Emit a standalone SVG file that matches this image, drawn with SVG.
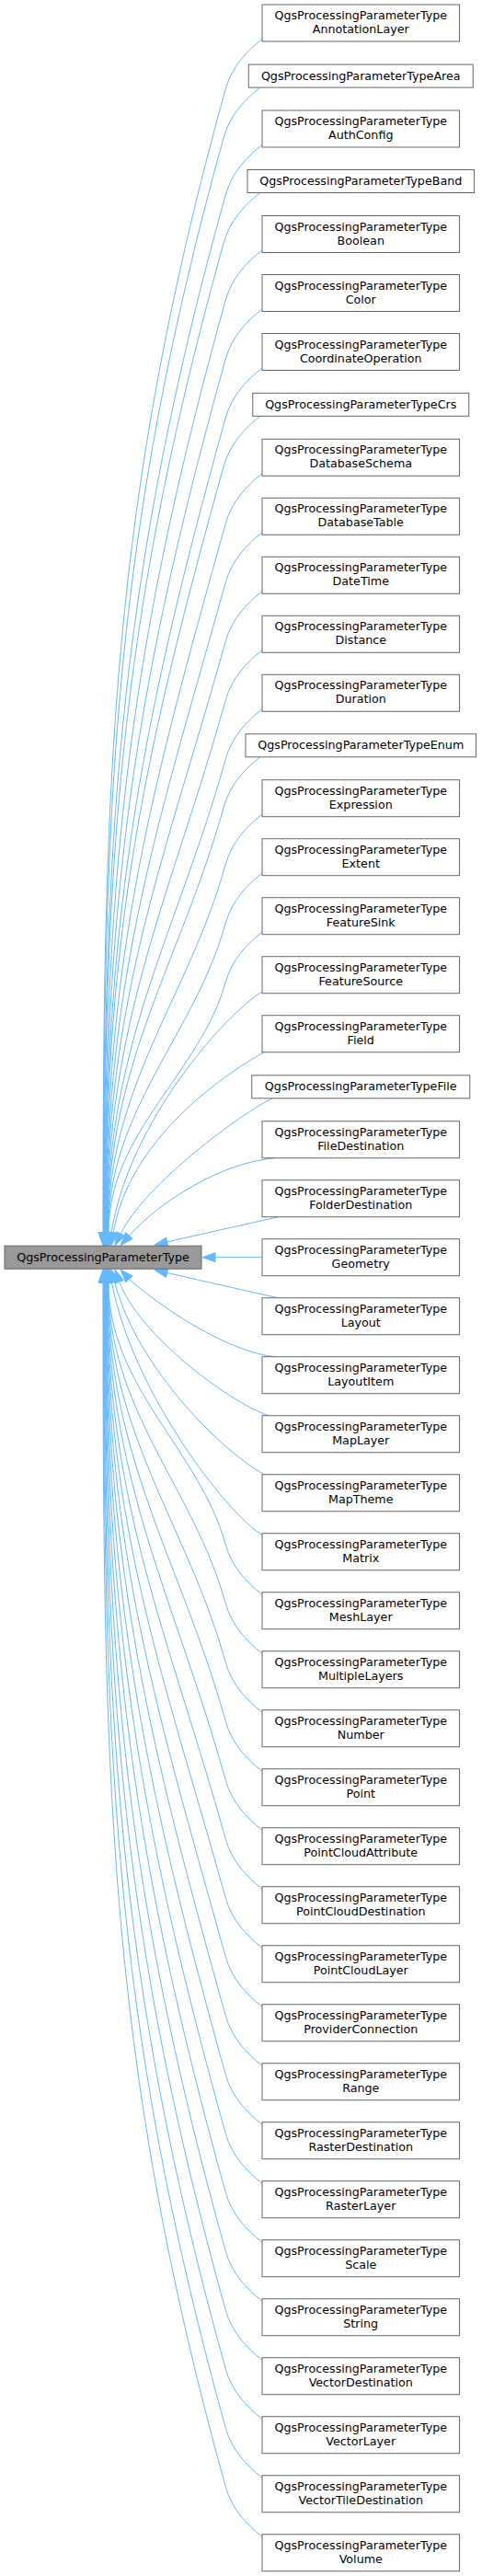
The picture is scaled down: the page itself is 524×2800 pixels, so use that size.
<svg xmlns="http://www.w3.org/2000/svg" width="524" height="2800" viewBox="0 0 524 2800">
<style>
.n rect{fill:#ffffff;stroke:#666666;stroke-width:1}
.m rect{fill:#999999;stroke:#666666;stroke-width:1}
text{font-family:"DejaVu Sans","Liberation Sans",sans-serif;font-size:12.7px;text-anchor:middle;fill:#000000}
#edges path{fill:none;stroke:#63b8ff;stroke-width:1}
#edges polygon{fill:#63b8ff;stroke:#63b8ff;stroke-width:1}
</style>
<rect width="524" height="2800" fill="#ffffff"/>
<g id="edges">
<!-- upper far -->
<path d="M112,1339.5 C112,842.7 120.8,544.6 245,97.5 C252,72.5 268,55.5 285,42.5"/>
<polygon points="107,1339.5 112,1353.7 117,1339.5"/>
<path d="M112.4,1339.5 C112.4,863.7 124.1,578.3 243,150.1 C250,125.1 266,108.1 283,95.1"/>
<polygon points="107.4,1339.5 112.4,1353.7 117.4,1339.5"/>
<path d="M112.75,1339.5 C112.75,888.7 132.3,618.2 245,212.5 C252,187.5 268,170.5 285,157.5"/>
<polygon points="107.75,1339.5 112.75,1353.7 117.75,1339.5"/>
<path d="M113.1,1339.5 C113.1,909.5 135.5,651.5 243,264.5 C250,239.5 266,222.5 283,209.5"/>
<polygon points="108.1,1339.5 113.1,1353.7 118.1,1339.5"/>
<path d="M113.5,1339.5 C113.5,934.5 143.75,691.5 245,327 C252,302 268,285 285,272"/>
<polygon points="108.5,1339.5 113.5,1353.7 118.5,1339.5"/>
<path d="M113.9,1339.5 C113.9,960.1 150.15,732.5 245,391 C252,366 268,349 285,336"/>
<polygon points="108.9,1339.5 113.9,1353.7 118.9,1339.5"/>
<path d="M114.25,1339.5 C114.25,985.7 156.55,773.4 245,455 C252,430 268,413 285,400"/>
<polygon points="109.25,1339.5 114.25,1353.7 119.25,1339.5"/>
<path d="M114.6,1339.5 C114.6,1006.6 159.8,806.9 243,507.3 C250,482.3 266,465.3 283,452.3"/>
<polygon points="109.6,1339.5 114.6,1353.7 119.6,1339.5"/>
<path d="M115,1339.5 C115,1031.6 168,846.9 245,569.8 C252,544.8 268,527.8 285,514.8"/>
<polygon points="110,1339.5 115,1353.7 120,1339.5"/>
<path d="M115.4,1339.5 C115.4,1057.2 174.4,887.9 245,633.8 C252,608.8 268,591.8 285,578.8"/>
<polygon points="110.4,1339.5 115.4,1353.7 120.4,1339.5"/>
<path d="M115.75,1339.5 C115.75,1082.8 180.8,928.8 245,697.8 C252,672.8 268,655.8 285,642.8"/>
<polygon points="110.75,1339.5 115.75,1353.7 120.75,1339.5"/>
<path d="M116.1,1339.5 C116.1,1108.4 187.2,969.8 245,761.8 C252,736.8 268,719.8 285,706.8"/>
<polygon points="111.1,1339.5 116.1,1353.7 121.1,1339.5"/>
<path d="M116.5,1339.5 C116.5,1134 193.6,1010.7 245,825.8 C252,800.8 268,783.8 285,770.8"/>
<polygon points="111.5,1339.5 116.5,1353.7 121.5,1339.5"/>
<path d="M116.9,1339.5 C116.9,1154.8 196.8,1044 243,877.8 C250,852.8 266,835.8 283,822.8"/>
<polygon points="111.9,1339.5 116.9,1353.7 121.9,1339.5"/>
<path d="M117.25,1339.5 C117.25,1179.8 205.1,1083.9 245,940.2 C252,915.2 268,898.2 285,885.2"/>
<polygon points="112.25,1339.5 117.25,1353.7 122.25,1339.5"/>
<path d="M117.6,1339.5 C117.6,1205.4 211.5,1124.9 245,1004.2 C252,979.2 268,962.2 285,949.2"/>
<polygon points="112.6,1339.5 117.6,1353.7 122.6,1339.5"/>
<path d="M118,1339.5 C118,1231 217.9,1165.9 245,1068.2 C252,1043.2 268,1026.2 285,1013.2"/>
<polygon points="113,1339.5 118,1353.7 123,1339.5"/>
<!-- upper near -->
<path d="M121.1,1339.65 C140,1220 245,1102 285,1078"/>
<polygon points="126.05,1340.4 119,1353.7 116.15,1338.9"/>
<path d="M123.3,1339.7 C140,1240 240,1170 287,1143.7"/>
<polygon points="128.2,1340.5 121,1353.7 118.4,1338.9"/>
<path d="M131.2,1341 C158,1287 262,1210 296,1194"/>
<polygon points="135.7,1343.2 125,1353.7 126.7,1338.8"/>
<path d="M140.4,1343.1 C175,1305 240,1264 299,1258.7"/>
<polygon points="144.1,1346.5 131,1353.7 136.7,1339.7"/>
<path d="M181.7,1349.9 C222,1340.8 262,1331.8 303,1322.7"/>
<polygon points="182.8,1354.8 168,1353.2 180.6,1345"/>
<!-- middle -->
<path d="M234,1366.7 L285,1366.7"/>
<polygon points="234,1361.7 220,1366.7 234,1371.7"/>
<!-- lower near -->
<path d="M181.65,1383.5 C222,1392.6 262,1401.7 302,1410.7"/>
<polygon points="180.55,1388.4 168,1380.4 182.75,1378.6"/>
<path d="M140.4,1390.4 C180,1425 250,1470 299,1474.7"/>
<polygon points="136.7,1393.8 131,1379.9 144.1,1387"/>
<path d="M129.7,1393.2 C150,1450 250,1525 292.3,1538.7"/>
<polygon points="125,1394.9 125,1379.9 134.4,1391.5"/>
<path d="M124.6,1393.5 C150,1490 245,1580 287.3,1602.7"/>
<polygon points="119.7,1394.8 121,1379.9 129.4,1392.2"/>
<path d="M121.5,1393.8 C143,1510 245,1644 285,1668.5"/>
<polygon points="116.6,1394.7 119,1379.9 126.4,1392.9"/>
<!-- lower far -->
<path d="M118,1394 C118,1507.7 216.6,1575.9 245,1678.2 C252,1703.2 268,1720.2 285,1733.2"/>
<polygon points="113,1394 118,1379.9 123,1394"/>
<path d="M117.6,1394 C117.6,1533.3 210.2,1616.8 245,1742.2 C252,1767.2 268,1784.2 285,1797.2"/>
<polygon points="112.6,1394 117.6,1379.9 122.6,1394"/>
<path d="M117.25,1394 C117.25,1558.9 203.8,1657.8 245,1806.2 C252,1831.2 268,1848.2 285,1861.2"/>
<polygon points="112.25,1394 117.25,1379.9 122.25,1394"/>
<path d="M116.9,1394 C116.9,1584.5 197.4,1698.8 245,1870.2 C252,1895.2 268,1912.2 285,1925.2"/>
<polygon points="111.9,1394 116.9,1379.9 121.9,1394"/>
<path d="M116.5,1394 C116.5,1610.1 191,1739.7 245,1934.2 C252,1959.2 268,1976.2 285,1989.2"/>
<polygon points="111.5,1394 116.5,1379.9 121.5,1394"/>
<path d="M116.1,1394 C116.1,1635.7 184.6,1780.7 245,1998.2 C252,2023.2 268,2040.2 285,2053.2"/>
<polygon points="111.1,1394 116.1,1379.9 121.1,1394"/>
<path d="M115.75,1394 C115.75,1661.3 178.2,1821.6 245,2062.2 C252,2087.2 268,2104.2 285,2117.2"/>
<polygon points="110.75,1394 115.75,1379.9 120.75,1394"/>
<path d="M115.4,1394 C115.4,1686.9 171.8,1862.6 245,2126.2 C252,2151.2 268,2168.2 285,2181.2"/>
<polygon points="110.4,1394 115.4,1379.9 120.4,1394"/>
<path d="M115,1394 C115,1712.5 165.4,1903.6 245,2190.2 C252,2215.2 268,2232.2 285,2245.2"/>
<polygon points="110,1394 115,1379.9 120,1394"/>
<path d="M114.6,1394 C114.6,1738.1 159,1944.5 245,2254.2 C252,2279.2 268,2296.2 285,2309.2"/>
<polygon points="109.6,1394 114.6,1379.9 119.6,1394"/>
<path d="M114.25,1394 C114.25,1763.7 152.6,1985.5 245,2318.2 C252,2343.2 268,2360.2 285,2373.2"/>
<polygon points="109.25,1394 114.25,1379.9 119.25,1394"/>
<path d="M113.9,1394 C113.9,1789.3 146.2,2026.4 245,2382.2 C252,2407.2 268,2424.2 285,2437.2"/>
<polygon points="108.9,1394 113.9,1379.9 118.9,1394"/>
<path d="M113.5,1394 C113.5,1814.9 139.8,2067.4 245,2446.2 C252,2471.2 268,2488.2 285,2501.2"/>
<polygon points="108.5,1394 113.5,1379.9 118.5,1394"/>
<path d="M113.1,1394 C113.1,1840.5 133.4,2108.4 245,2510.2 C252,2535.2 268,2552.2 285,2565.2"/>
<polygon points="108.1,1394 113.1,1379.9 118.1,1394"/>
<path d="M112.75,1394 C112.75,1866.1 127,2149.3 245,2574.2 C252,2599.2 268,2616.2 285,2629.2"/>
<polygon points="107.75,1394 112.75,1379.9 117.75,1394"/>
<path d="M112.4,1394 C112.4,1891.7 120.6,2190.3 245,2638.2 C252,2663.2 268,2680.2 285,2693.2"/>
<polygon points="107.4,1394 112.4,1379.9 117.4,1394"/>
<path d="M112,1394 C112,1917.3 114.2,2231.25 245,2702.2 C252,2727.2 268,2744.2 285,2757.2"/>
<polygon points="107,1394 112,1379.9 117,1394"/>
</g>
<g id="main" class="m"><rect x="5" y="1354.2" width="214" height="25"/><text x="112" y="1370.7">QgsProcessingParameterType</text></g>
<g id="n_annotationlayer" class="n"><rect x="285" y="5" width="214.5" height="40"/><text x="392.25" y="21">QgsProcessingParameterType<tspan x="392.25" dy="15">AnnotationLayer</tspan></text></g>
<g id="n_area" class="n"><rect x="270.25" y="70.1" width="244" height="25"/><text x="392.25" y="86.6">QgsProcessingParameterTypeArea</text></g>
<g id="n_authconfig" class="n"><rect x="285" y="120" width="214.5" height="40"/><text x="392.25" y="136">QgsProcessingParameterType<tspan x="392.25" dy="15">AuthConfig</tspan></text></g>
<g id="n_band" class="n"><rect x="269" y="184.5" width="246.5" height="25"/><text x="392.25" y="201">QgsProcessingParameterTypeBand</text></g>
<g id="n_boolean" class="n"><rect x="285" y="234.5" width="214.5" height="40"/><text x="392.25" y="250.5">QgsProcessingParameterType<tspan x="392.25" dy="15">Boolean</tspan></text></g>
<g id="n_color" class="n"><rect x="285" y="298.5" width="214.5" height="40"/><text x="392.25" y="314.5">QgsProcessingParameterType<tspan x="392.25" dy="15">Color</tspan></text></g>
<g id="n_coordinateoperation" class="n"><rect x="285" y="362.5" width="214.5" height="40"/><text x="392.25" y="378.5">QgsProcessingParameterType<tspan x="392.25" dy="15">CoordinateOperation</tspan></text></g>
<g id="n_crs" class="n"><rect x="274.75" y="427.3" width="235" height="25"/><text x="392.25" y="443.8">QgsProcessingParameterTypeCrs</text></g>
<g id="n_databaseschema" class="n"><rect x="285" y="477.3" width="214.5" height="40"/><text x="392.25" y="493.3">QgsProcessingParameterType<tspan x="392.25" dy="15">DatabaseSchema</tspan></text></g>
<g id="n_databasetable" class="n"><rect x="285" y="541.3" width="214.5" height="40"/><text x="392.25" y="557.3">QgsProcessingParameterType<tspan x="392.25" dy="15">DatabaseTable</tspan></text></g>
<g id="n_datetime" class="n"><rect x="285" y="605.3" width="214.5" height="40"/><text x="392.25" y="621.3">QgsProcessingParameterType<tspan x="392.25" dy="15">DateTime</tspan></text></g>
<g id="n_distance" class="n"><rect x="285" y="669.3" width="214.5" height="40"/><text x="392.25" y="685.3">QgsProcessingParameterType<tspan x="392.25" dy="15">Distance</tspan></text></g>
<g id="n_duration" class="n"><rect x="285" y="733.3" width="214.5" height="40"/><text x="392.25" y="749.3">QgsProcessingParameterType<tspan x="392.25" dy="15">Duration</tspan></text></g>
<g id="n_enum" class="n"><rect x="267" y="797.8" width="250.5" height="25"/><text x="392.25" y="814.3">QgsProcessingParameterTypeEnum</text></g>
<g id="n_expression" class="n"><rect x="285" y="847.7" width="214.5" height="40"/><text x="392.25" y="863.7">QgsProcessingParameterType<tspan x="392.25" dy="15">Expression</tspan></text></g>
<g id="n_extent" class="n"><rect x="285" y="911.7" width="214.5" height="40"/><text x="392.25" y="927.7">QgsProcessingParameterType<tspan x="392.25" dy="15">Extent</tspan></text></g>
<g id="n_featuresink" class="n"><rect x="285" y="975.7" width="214.5" height="40"/><text x="392.25" y="991.7">QgsProcessingParameterType<tspan x="392.25" dy="15">FeatureSink</tspan></text></g>
<g id="n_featuresource" class="n"><rect x="285" y="1039.7" width="214.5" height="40"/><text x="392.25" y="1055.7">QgsProcessingParameterType<tspan x="392.25" dy="15">FeatureSource</tspan></text></g>
<g id="n_field" class="n"><rect x="285" y="1103.7" width="214.5" height="40"/><text x="392.25" y="1119.7">QgsProcessingParameterType<tspan x="392.25" dy="15">Field</tspan></text></g>
<g id="n_file" class="n"><rect x="273.75" y="1168.8" width="237" height="25"/><text x="392.25" y="1185.3">QgsProcessingParameterTypeFile</text></g>
<g id="n_filedestination" class="n"><rect x="285" y="1218.7" width="214.5" height="40"/><text x="392.25" y="1234.7">QgsProcessingParameterType<tspan x="392.25" dy="15">FileDestination</tspan></text></g>
<g id="n_folderdestination" class="n"><rect x="285" y="1282.7" width="214.5" height="40"/><text x="392.25" y="1298.7">QgsProcessingParameterType<tspan x="392.25" dy="15">FolderDestination</tspan></text></g>
<g id="n_geometry" class="n"><rect x="285" y="1346.7" width="214.5" height="40"/><text x="392.25" y="1362.7">QgsProcessingParameterType<tspan x="392.25" dy="15">Geometry</tspan></text></g>
<g id="n_layout" class="n"><rect x="285" y="1410.7" width="214.5" height="40"/><text x="392.25" y="1426.7">QgsProcessingParameterType<tspan x="392.25" dy="15">Layout</tspan></text></g>
<g id="n_layoutitem" class="n"><rect x="285" y="1474.7" width="214.5" height="40"/><text x="392.25" y="1490.7">QgsProcessingParameterType<tspan x="392.25" dy="15">LayoutItem</tspan></text></g>
<g id="n_maplayer" class="n"><rect x="285" y="1538.7" width="214.5" height="40"/><text x="392.25" y="1554.7">QgsProcessingParameterType<tspan x="392.25" dy="15">MapLayer</tspan></text></g>
<g id="n_maptheme" class="n"><rect x="285" y="1602.7" width="214.5" height="40"/><text x="392.25" y="1618.7">QgsProcessingParameterType<tspan x="392.25" dy="15">MapTheme</tspan></text></g>
<g id="n_matrix" class="n"><rect x="285" y="1666.7" width="214.5" height="40"/><text x="392.25" y="1682.7">QgsProcessingParameterType<tspan x="392.25" dy="15">Matrix</tspan></text></g>
<g id="n_meshlayer" class="n"><rect x="285" y="1730.7" width="214.5" height="40"/><text x="392.25" y="1746.7">QgsProcessingParameterType<tspan x="392.25" dy="15">MeshLayer</tspan></text></g>
<g id="n_multiplelayers" class="n"><rect x="285" y="1794.7" width="214.5" height="40"/><text x="392.25" y="1810.7">QgsProcessingParameterType<tspan x="392.25" dy="15">MultipleLayers</tspan></text></g>
<g id="n_number" class="n"><rect x="285" y="1858.7" width="214.5" height="40"/><text x="392.25" y="1874.7">QgsProcessingParameterType<tspan x="392.25" dy="15">Number</tspan></text></g>
<g id="n_point" class="n"><rect x="285" y="1922.7" width="214.5" height="40"/><text x="392.25" y="1938.7">QgsProcessingParameterType<tspan x="392.25" dy="15">Point</tspan></text></g>
<g id="n_pointcloudattribute" class="n"><rect x="285" y="1986.7" width="214.5" height="40"/><text x="392.25" y="2002.7">QgsProcessingParameterType<tspan x="392.25" dy="15">PointCloudAttribute</tspan></text></g>
<g id="n_pointclouddestination" class="n"><rect x="285" y="2050.7" width="214.5" height="40"/><text x="392.25" y="2066.7">QgsProcessingParameterType<tspan x="392.25" dy="15">PointCloudDestination</tspan></text></g>
<g id="n_pointcloudlayer" class="n"><rect x="285" y="2114.7" width="214.5" height="40"/><text x="392.25" y="2130.7">QgsProcessingParameterType<tspan x="392.25" dy="15">PointCloudLayer</tspan></text></g>
<g id="n_providerconnection" class="n"><rect x="285" y="2178.7" width="214.5" height="40"/><text x="392.25" y="2194.7">QgsProcessingParameterType<tspan x="392.25" dy="15">ProviderConnection</tspan></text></g>
<g id="n_range" class="n"><rect x="285" y="2242.7" width="214.5" height="40"/><text x="392.25" y="2258.7">QgsProcessingParameterType<tspan x="392.25" dy="15">Range</tspan></text></g>
<g id="n_rasterdestination" class="n"><rect x="285" y="2306.7" width="214.5" height="40"/><text x="392.25" y="2322.7">QgsProcessingParameterType<tspan x="392.25" dy="15">RasterDestination</tspan></text></g>
<g id="n_rasterlayer" class="n"><rect x="285" y="2370.7" width="214.5" height="40"/><text x="392.25" y="2386.7">QgsProcessingParameterType<tspan x="392.25" dy="15">RasterLayer</tspan></text></g>
<g id="n_scale" class="n"><rect x="285" y="2434.7" width="214.5" height="40"/><text x="392.25" y="2450.7">QgsProcessingParameterType<tspan x="392.25" dy="15">Scale</tspan></text></g>
<g id="n_string" class="n"><rect x="285" y="2498.7" width="214.5" height="40"/><text x="392.25" y="2514.7">QgsProcessingParameterType<tspan x="392.25" dy="15">String</tspan></text></g>
<g id="n_vectordestination" class="n"><rect x="285" y="2562.7" width="214.5" height="40"/><text x="392.25" y="2578.7">QgsProcessingParameterType<tspan x="392.25" dy="15">VectorDestination</tspan></text></g>
<g id="n_vectorlayer" class="n"><rect x="285" y="2626.7" width="214.5" height="40"/><text x="392.25" y="2642.7">QgsProcessingParameterType<tspan x="392.25" dy="15">VectorLayer</tspan></text></g>
<g id="n_vectortiledestination" class="n"><rect x="285" y="2690.7" width="214.5" height="40"/><text x="392.25" y="2706.7">QgsProcessingParameterType<tspan x="392.25" dy="15">VectorTileDestination</tspan></text></g>
<g id="n_volume" class="n"><rect x="285" y="2754.7" width="214.5" height="40"/><text x="392.25" y="2770.7">QgsProcessingParameterType<tspan x="392.25" dy="15">Volume</tspan></text></g>
</svg>
